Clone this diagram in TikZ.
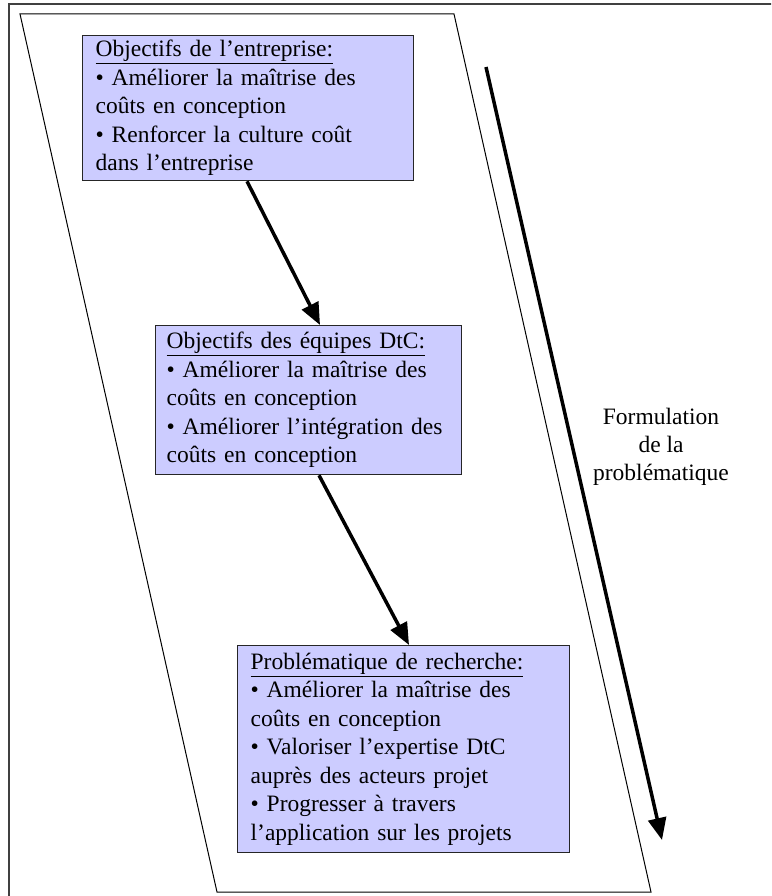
\documentclass[tikz,border=0pt]{standalone}
\usepackage{fontspec}
\setmainfont{Liberation Serif}
\usetikzlibrary{arrows.meta,calc}
\definecolor{boxblue}{RGB}{204,204,255}
\definecolor{framegray}{RGB}{64,64,64}
\tikzset{
  frame/.style={draw=framegray, line width=1.5pt},
  band/.style={draw=black, line width=1pt},
  goalbox/.style={draw=black!85, line width=1.3pt, fill=boxblue, anchor=north west,
    align=left, inner xsep=13pt, inner ysep=0pt,
    font=\fontsize{23.5}{28.5}\selectfont},
  flow/.style={draw=black, line width=3.5pt, -{Triangle[length=22pt,width=18pt]}},
  sidelabel/.style={align=center, inner sep=0pt, font=\fontsize{23.5}{28}\selectfont}
}
\begin{document}
\begin{tikzpicture}[x=1pt,y=-1pt]
\path[clip] (0,0) rectangle (771,896);
% page frame (runs past the right and bottom edges)
\draw[frame] (9,4) rectangle (800,930);
% slanted band holding the three levels
\draw[band] (20,14) -- (454,14) -- (651,892) -- (217,892) -- cycle;

\node[goalbox, text width=305pt, minimum height=145pt] (ent) at (82,35)
  {\underline{Objectifs de l’entreprise:}\\
   • Améliorer la maîtrise des\\
   coûts en conception\\
   • Renforcer la culture coût\\
   dans l’entreprise};

\node[goalbox, inner xsep=11pt, text width=284pt, minimum height=149pt] (dtc) at (155,325)
  {\underline{Objectifs des équipes DtC:}\\
   • Améliorer la maîtrise des\\
   coûts en conception\\
   • Améliorer l’intégration des\\
   coûts en conception};

\node[goalbox, text width=306pt, minimum height=207pt] (rech) at (237,645)
  {\underline{Problématique de recherche:}\\
   • Améliorer la maîtrise des\\
   coûts en conception\\
   • Valoriser l’expertise DtC\\
   auprès des acteurs projet\\
   • Progresser à travers\\
   l’application sur les projets};

\draw[flow] ($(ent.south west)+(165,0)$) -- ($(dtc.north west)+(165,0)$);
\draw[flow] ($(dtc.south west)+(164,0)$) -- ($(rech.north west)+(172,0)$);

% overall direction of the reasoning
\coordinate (fstart) at (486,67);
\coordinate (fend) at (662,840);
\draw[flow] (fstart) -- (fend);
\node[sidelabel] (formul) at (661,447) {Formulation\\de la\\problématique};
\end{tikzpicture}
\end{document}
